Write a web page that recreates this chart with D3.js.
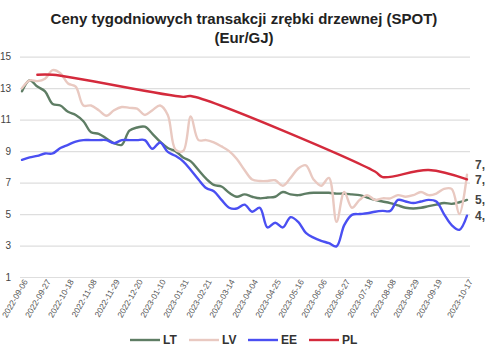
<!DOCTYPE html>
<html>
<head>
<meta charset="utf-8">
<script src="https://cdn.jsdelivr.net/npm/d3@7"></script>
<style>
  body { margin: 0; background: #fff; }
  svg { display: block; font-family: "Liberation Sans", Arial, sans-serif; }
</style>
</head>
<body>
<div id="container"></div>
<script>
const dates = [
  "2022-09-06", "2022-09-13", "2022-09-20", "2022-09-27", "2022-10-04", "2022-10-11", "2022-10-18", "2022-10-25",
  "2022-11-01", "2022-11-08", "2022-11-15", "2022-11-22", "2022-11-29", "2022-12-06", "2022-12-13", "2022-12-20",
  "2022-12-27", "2023-01-03", "2023-01-10", "2023-01-17", "2023-01-24", "2023-01-31", "2023-02-07", "2023-02-14",
  "2023-02-21", "2023-02-28", "2023-03-07", "2023-03-14", "2023-03-21", "2023-03-28", "2023-04-04", "2023-04-11",
  "2023-04-18", "2023-04-25", "2023-05-02", "2023-05-09", "2023-05-16", "2023-05-23", "2023-05-30", "2023-06-06",
  "2023-06-13", "2023-06-20", "2023-06-27", "2023-07-04", "2023-07-11", "2023-07-18", "2023-07-25", "2023-08-01",
  "2023-08-08", "2023-08-15", "2023-08-22", "2023-08-29", "2023-09-05", "2023-09-12", "2023-09-19", "2023-09-26",
  "2023-10-03", "2023-10-10", "2023-10-17"
];

const tickLabels = [
  "2022-09-06", "2022-09-27", "2022-10-18", "2022-11-08", "2022-11-29", "2022-12-20", "2023-01-10",
  "2023-01-31", "2023-02-21", "2023-03-14", "2023-04-04", "2023-04-25", "2023-05-16", "2023-06-06",
  "2023-06-27", "2023-07-18", "2023-08-08", "2023-08-29", "2023-09-19", "2023-10-17"
];

const yTicks = [1, 3, 5, 7, 9, 11, 13, 15];

const LT = [
  12.8, 13.5, 13.1, 12.8, 12.0, 11.9, 11.5, 11.3, 10.9, 10.2, 10.1, 9.8, 9.5, 9.4, 10.3, 10.5,
  10.55, 10.1, 9.6, 9.2, 9.0, 8.6, 8.35, 7.8, 7.25, 6.85, 6.75, 6.35, 6.1, 6.25, 6.1, 6.0,
  6.05, 6.1, 6.4, 6.25, 6.2, 6.3, 6.35, 6.35, 6.35, 6.3, 6.3, 6.25, 6.2, 6.05, 5.9, 5.8,
  5.7, 5.55, 5.4, 5.35, 5.4, 5.5, 5.6, 5.7, 5.65, 5.75, 5.9
];

const LV = [
  13.0, 13.5, 13.45, 13.6, 14.15, 13.95, 13.3, 13.1, 11.9, 11.9, 11.6, 11.25, 11.6, 11.8, 11.75, 11.7,
  11.3, 11.6, 11.9, 11.3, 9.1, 9.0, 11.2, 9.7, 9.7, 9.55, 9.3, 9.0, 8.5, 7.8, 7.2, 7.1,
  7.1, 7.15, 6.8, 7.3, 7.9, 8.1, 7.2, 6.8, 7.3, 4.5, 6.4, 5.4, 5.9, 6.2, 5.9, 6.0,
  6.0, 6.2, 6.1, 6.2, 6.4, 6.2, 6.3, 6.6, 6.6, 5.0, 7.5
];

const EE = [
  8.45, 8.6, 8.7, 8.85, 8.85, 9.2, 9.4, 9.6, 9.7, 9.7, 9.7, 9.7, 9.5, 9.7, 9.7, 9.7,
  9.7, 9.15, 9.55, 8.95, 8.7, 8.35, 7.8, 7.2, 6.65, 6.45, 5.9, 5.4, 5.35, 5.6, 5.15, 5.4,
  4.15, 4.45, 4.15, 4.8, 4.5, 3.8, 3.5, 3.3, 3.15, 2.95, 4.3, 4.95, 5.0, 5.05, 5.15, 5.2,
  5.2, 5.9, 5.8, 5.7, 5.8, 5.9, 5.8, 5.0, 4.3, 4.0, 4.9
];

// PL only has a few observations, the rest are gaps
const PL = [
  null, null, 13.85, null, 13.85, null, null, null, null, null, null, null, null, null, null, null,
  null, null, null, null, null, 12.45, 12.5, null, null, null, null, null, null, null, null, null,
  null, null, null, null, null, null, null, null, null, null, null, null, null, null, 7.7, 7.35,
  null, null, null, null, null, 7.8, null, null, null, null, 7.2
];

const seriesNames = ["LT", "LV", "EE", "PL"];
const seriesColors = ["#5e7d64", "#e9c9c1", "#4a4ff2", "#d42a3c"];
const seriesValues = [LT, LV, EE, PL];

const width = 485,
  height = 360;

const svg = d3.select("#container")
  .append("svg")
  .attr("width", width)
  .attr("height", height);

// title
svg.append("text")
  .attr("x", 244)
  .attr("y", 24)
  .attr("text-anchor", "middle")
  .attr("font-size", 15)
  .attr("font-weight", "bold")
  .attr("fill", "#222")
  .text("Ceny tygodniowych transakcji zrębki drzewnej (SPOT)");

svg.append("text")
  .attr("x", 244)
  .attr("y", 43)
  .attr("text-anchor", "middle")
  .attr("font-size", 15)
  .attr("font-weight", "bold")
  .attr("fill", "#222")
  .text("(Eur/GJ)");

const x = d3.scalePoint()
  .domain(dates)
  .range([22, 467]);

const y = d3.scaleLinear()
  .domain([1, 15])
  .range([277, 56.7]);

// y axis + grid
const yAxis = d3.axisLeft(y)
  .tickValues(yTicks)
  .tickSize(-450)
  .tickPadding(9)
  .tickFormat(d3.format("d"));

const yg = svg.append("g")
  .attr("transform", "translate(20,0)")
  .call(yAxis);
yg.select(".domain").remove();
yg.selectAll(".tick line").attr("stroke", "#dedede").attr("stroke-width", 1.2);
yg.selectAll(".tick text")
  .attr("fill", "#444")
  .attr("font-size", 10)
  .attr("font-family", "Liberation Sans, Arial, sans-serif");

// x labels
svg.append("g")
  .selectAll("text")
  .data(tickLabels)
  .enter()
  .append("text")
  .attr("transform", d => `translate(${x(d) + 3.5},${280}) rotate(-60)`)
  .attr("text-anchor", "end")
  .attr("dy", "0.35em")
  .attr("font-size", 8.3)
  .attr("fill", "#555")
  .text(d => d);

// lines
const line = d3.line()
  .x(d => x(d.date))
  .y(d => y(d.value))
  .curve(d3.curveCatmullRom.alpha(0.5));

const series = seriesNames.map((name, k) => ({
  name: name,
  color: seriesColors[k],
  points: dates
    .map((date, i) => ({ date: date, value: seriesValues[k][i] }))
    .filter(p => p.value != null)
}));

svg.append("g")
  .selectAll("path")
  .data(series)
  .enter()
  .append("path")
  .attr("d", d => line(d.points))
  .attr("fill", "none")
  .attr("stroke", d => d.color)
  .attr("stroke-width", 2.4)
  .attr("stroke-linejoin", "round")
  .attr("stroke-linecap", "round");

// end value labels, pushed apart when they collide
const ends = series.map(s => {
  const last = s.points[s.points.length - 1];
  return { value: last.value, ly: y(last.value) };
}).sort((a, b) => b.ly - a.ly);

for (let i = 1; i < ends.length; i++) {
  if (ends[i - 1].ly - ends[i].ly < 15) ends[i].ly = ends[i - 1].ly - 15;
}

// only the integer part and the comma fit before the edge
svg.append("g")
  .selectAll("text")
  .data(ends)
  .enter()
  .append("text")
  .attr("x", 475)
  .attr("y", d => d.ly)
  .attr("dy", "0.35em")
  .attr("font-size", 12)
  .attr("font-weight", "bold")
  .attr("fill", "#444")
  .text(d => Math.trunc(d.value) + ",");

// legend
const legendX = [130, 189, 248, 309];
const legend = svg.append("g")
  .selectAll("g")
  .data(series)
  .enter()
  .append("g")
  .attr("transform", (d, i) => `translate(${legendX[i]},340)`);

legend.append("line")
  .attr("x1", 0)
  .attr("x2", 30)
  .attr("stroke", d => d.color)
  .attr("stroke-width", 2.4);

legend.append("text")
  .attr("x", 33)
  .attr("dy", "0.35em")
  .attr("font-size", 12)
  .attr("font-weight", "bold")
  .attr("fill", "#333")
  .text(d => d.name);
</script>
</body>
</html>
